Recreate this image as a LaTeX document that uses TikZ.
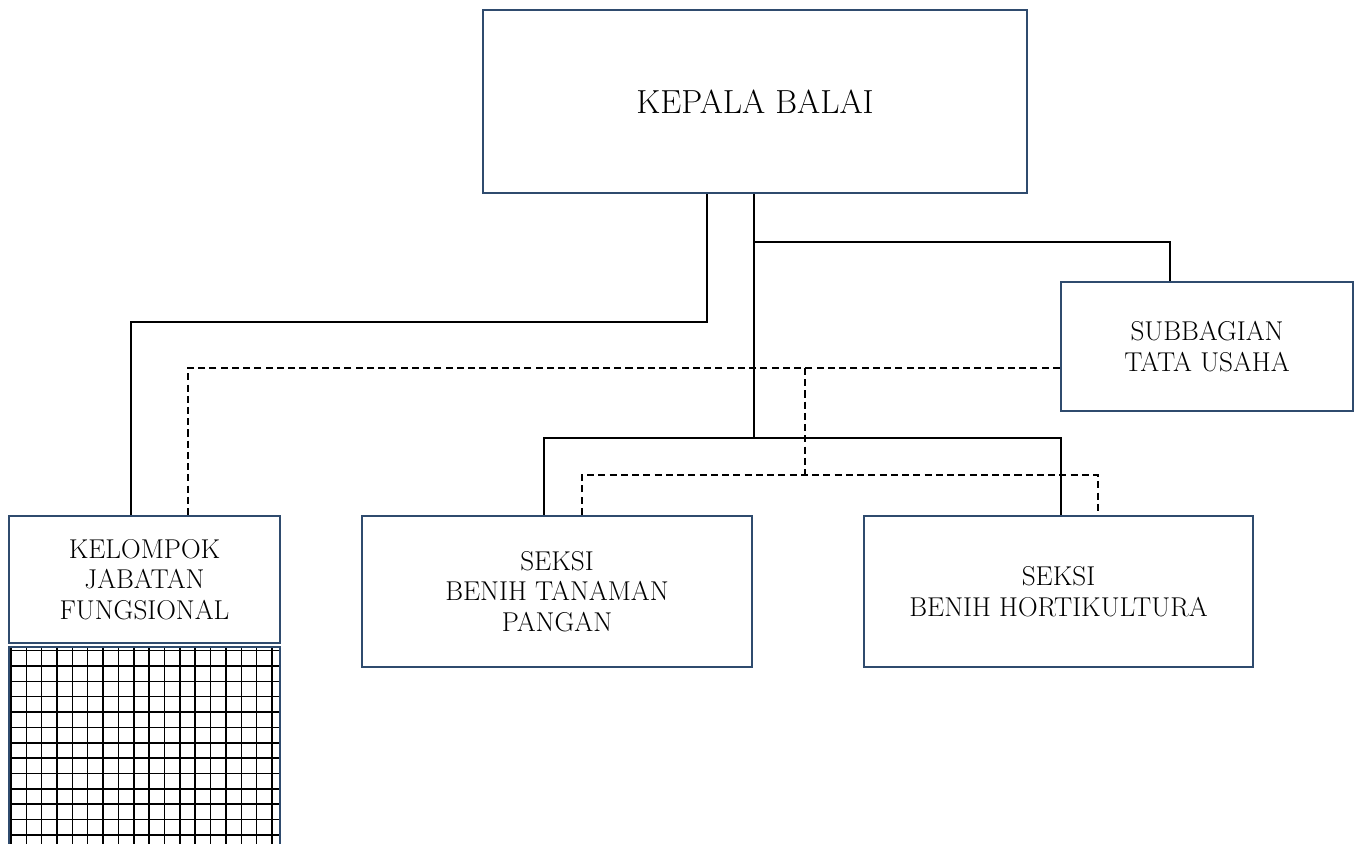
\documentclass[tikz,border=0pt]{standalone}
\usepackage{tikz}
\definecolor{boxblue}{RGB}{47, 75, 110}
\tikzset{
  unit/.style={draw=boxblue, line width=1.4pt, align=center, inner sep=2pt, font=\fontsize{15.5}{17.5}\selectfont},
  link/.style={line width=0.85pt},
  dline/.style={line width=0.85pt, dash pattern=on 4pt off 2.4pt},
  gridline/.style={line width=0.85pt}
}

\begin{document}
\begin{tikzpicture}[x=0.02cm, y=-0.02cm]
\useasboundingbox (0, 0) rectangle (1356, 844);
\node[unit, minimum width=10.88cm, minimum height=3.66cm, font=\fontsize{19}{22}\selectfont] (kepala) at (755, 101.5) {KEPALA BALAI};
\node[unit, minimum width=5.84cm, minimum height=2.58cm] (subbag) at (1207, 346.5) {SUBBAGIAN\\ TATA USAHA};
\node[unit, minimum width=5.42cm, minimum height=2.54cm] (kelompok) at (144.5, 579.5) {KELOMPOK\\ JABATAN\\ FUNGSIONAL};
\node[unit, minimum width=7.8cm, minimum height=3.02cm] (tanaman) at (557, 591.5) {SEKSI\\ BENIH TANAMAN\\ PANGAN};
\node[unit, minimum width=7.78cm, minimum height=3.02cm] (horti) at (1058.5, 591.5) {SEKSI\\ BENIH HORTIKULTURA};
\foreach \i in {0,...,17}
  \draw[gridline] ({11+15.35*\i}, 648) -- ({11+15.35*\i}, 844);
\foreach \i in {0,...,12}
  \draw[gridline] (9, {650.7+15.35*\i}) -- (280, {650.7+15.35*\i});
\draw[draw=boxblue, line width=1.4pt] (9, 850) -- (9, 647) -- (280, 647) -- (280, 850);
\draw[link] (kepala.south -| 707, 0) |- (131, 322) -- (kelompok.north -| 131, 0);
\draw[link] (kepala.south -| 754, 0) -- (754, 438);
\draw[link] (754, 242) -| (subbag.north -| 1170, 0);
\draw[link] (tanaman.north -| 544, 0) |- (1061, 438) -- (horti.north -| 1061, 0);
\draw[dline] (subbag.west |- 0, 368) -- (188, 368) -- (kelompok.north -| 188, 0);
\draw[dline] (805, 368) -- (805, 475);
\draw[dline] (tanaman.north -| 582, 0) |- (1098, 475) -- (horti.north -| 1098, 0);
\end{tikzpicture}
\end{document}
